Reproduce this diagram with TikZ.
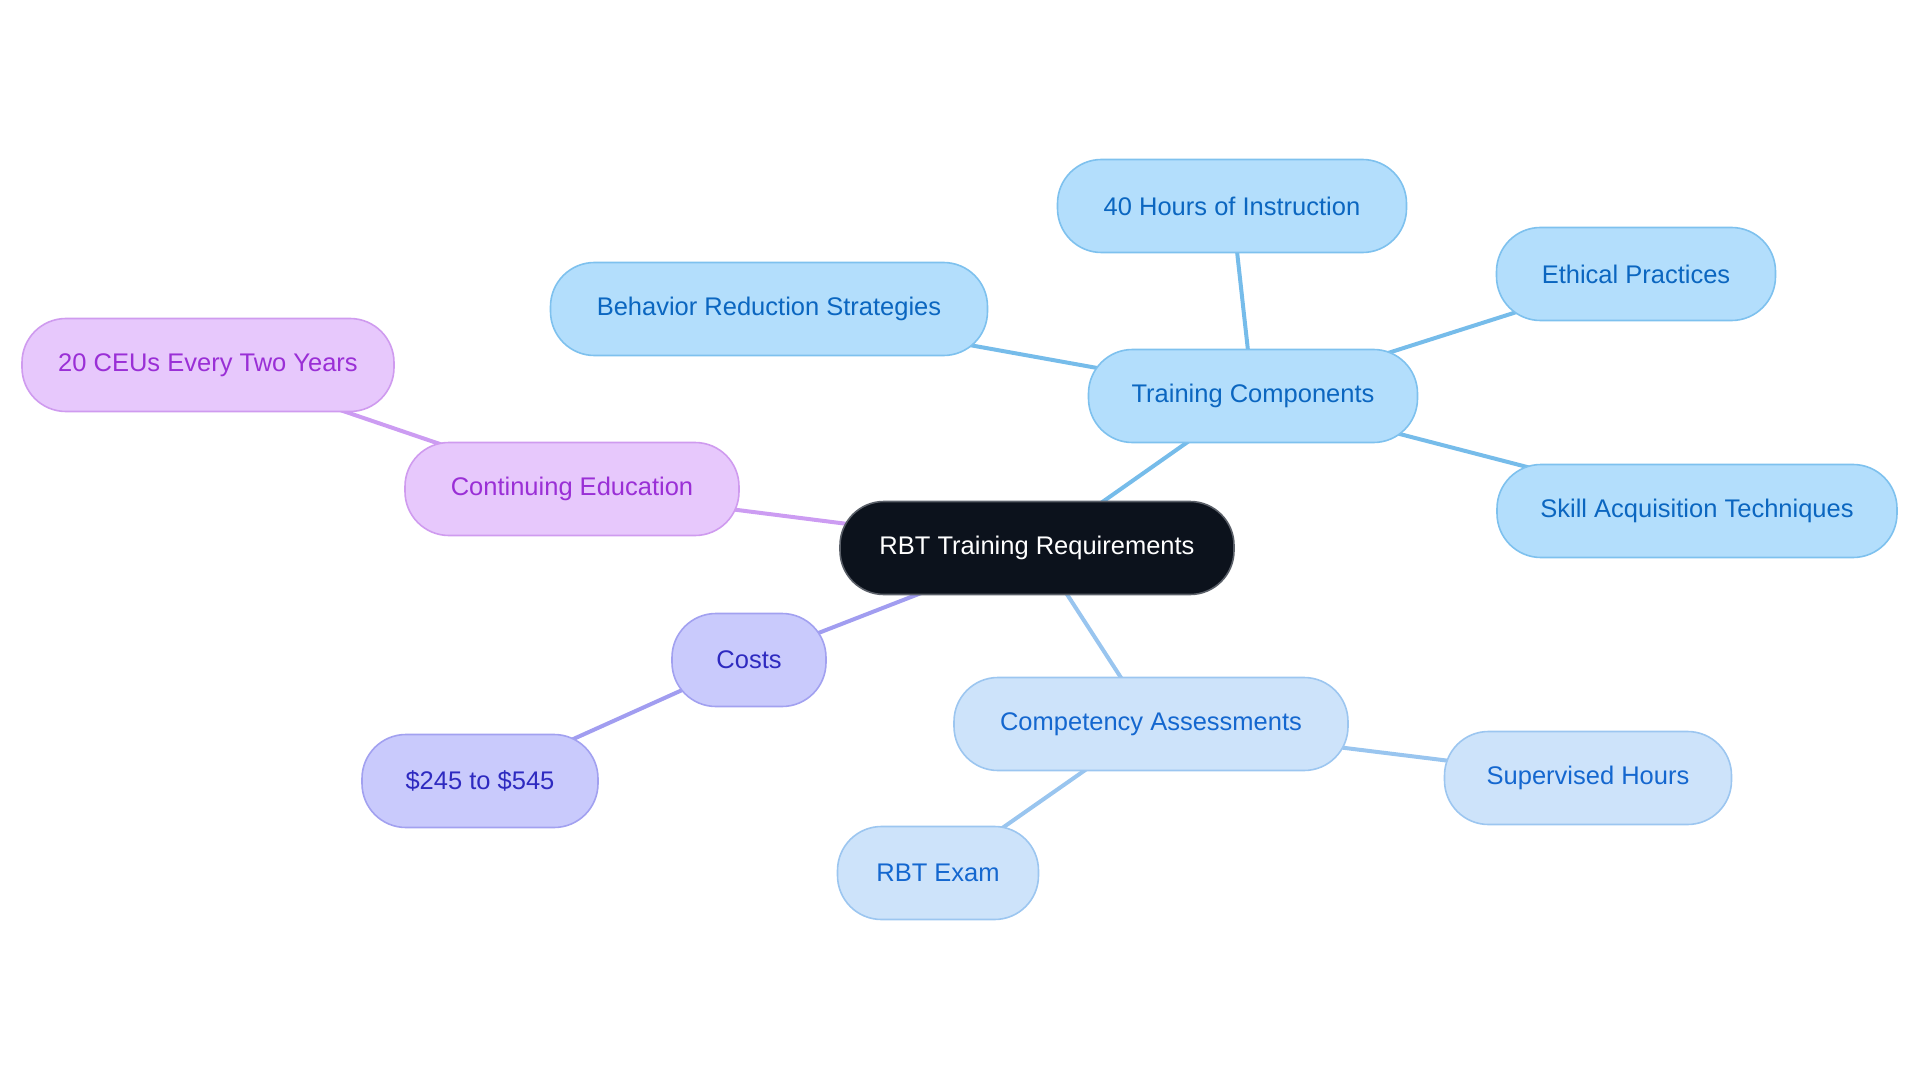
\documentclass[tikz,border=0pt]{standalone}
\usepackage{fontspec}
\setmainfont{Liberation Sans}
\usetikzlibrary{backgrounds}
\definecolor{cfill}{HTML}{0C121C}
\definecolor{cdraw}{HTML}{5A5F68}
\definecolor{bAfill}{HTML}{B3DEFC}
\definecolor{bAdraw}{HTML}{7EC1EE}
\definecolor{bAtext}{HTML}{0B66C0}
\definecolor{bAline}{HTML}{76BCEA}
\definecolor{bBfill}{HTML}{CDE3FA}
\definecolor{bBdraw}{HTML}{9CC6F0}
\definecolor{bBtext}{HTML}{1467CF}
\definecolor{bBline}{HTML}{99C5EF}
\definecolor{pfill}{HTML}{E7C8FC}
\definecolor{pdraw}{HTML}{CF9BEF}
\definecolor{ptext}{HTML}{9A2FD6}
\definecolor{pline}{HTML}{CC9CF2}
\definecolor{lfill}{HTML}{C9CAFC}
\definecolor{ldraw}{HTML}{A2A1F0}
\definecolor{ltext}{HTML}{2E2AC0}
\definecolor{lline}{HTML}{A19DF0}
\tikzset{
  box/.style={rounded corners=44pt, minimum height=93pt, line width=1.6pt,
    font=\fontsize{25.5}{30}\selectfont, inner sep=0pt, anchor=center},
  rootbox/.style={box, fill=cfill, draw=cdraw, text=white},
  tc/.style={box, fill=bAfill, draw=bAdraw, text=bAtext},
  ca/.style={box, fill=bBfill, draw=bBdraw, text=bBtext},
  ce/.style={box, fill=pfill, draw=pdraw, text=ptext},
  co/.style={box, fill=lfill, draw=ldraw, text=ltext},
  link/.style={line width=4pt}
}
\begin{document}
\begin{tikzpicture}[x=1pt,y=-1pt]
\useasboundingbox (0,0) rectangle (1920,1083);
% nodes
\node[rootbox, minimum width=394pt] (root) at (1037,548) {RBT Training Requirements};
\node[tc, minimum width=329pt] (train) at (1253,396) {Training Components};
\node[tc, minimum width=349pt] (hours) at (1232,206) {40 Hours of Instruction};
\node[tc, minimum width=279pt] (ethic) at (1636,274) {Ethical Practices};
\node[tc, minimum width=437pt] (behav) at (769,309) {Behavior Reduction Strategies};
\node[tc, minimum width=400pt] (skill) at (1697,511) {Skill Acquisition Techniques};
\node[ce, minimum width=334pt] (cont) at (572,489) {Continuing Education};
\node[ce, minimum width=372pt] (ceus) at (208,365) {20 CEUs Every Two Years};
\node[co, minimum width=154pt] (costs) at (749,660) {Costs};
\node[co, minimum width=236pt] (price) at (480,781) {\$245 to \$545};
\node[ca, minimum width=394pt] (comp) at (1151,724) {Competency Assessments};
\node[ca, minimum width=287pt] (superv) at (1588,778) {Supervised Hours};
\node[ca, minimum width=201pt] (exam) at (938,873) {RBT Exam};
% links (behind nodes)
\begin{scope}[on background layer]
  \draw[link, bAline] (root.center) -- (train.center);
  \draw[link, bAline] (train.center) -- (hours.center);
  \draw[link, bAline] (train.center) -- (ethic.center);
  \draw[link, bAline] (train.center) -- (behav.center);
  \draw[link, bAline] (train.center) -- (skill.center);
  \draw[link, pline] (root.center) -- (cont.center);
  \draw[link, pline] (cont.center) -- (ceus.center);
  \draw[link, lline] (root.center) -- (costs.center);
  \draw[link, lline] (costs.center) -- (price.center);
  \draw[link, bBline] (root.center) -- (comp.center);
  \draw[link, bBline] (comp.center) -- (superv.center);
  \draw[link, bBline] (comp.center) -- (exam.center);
\end{scope}
\end{tikzpicture}
\end{document}
